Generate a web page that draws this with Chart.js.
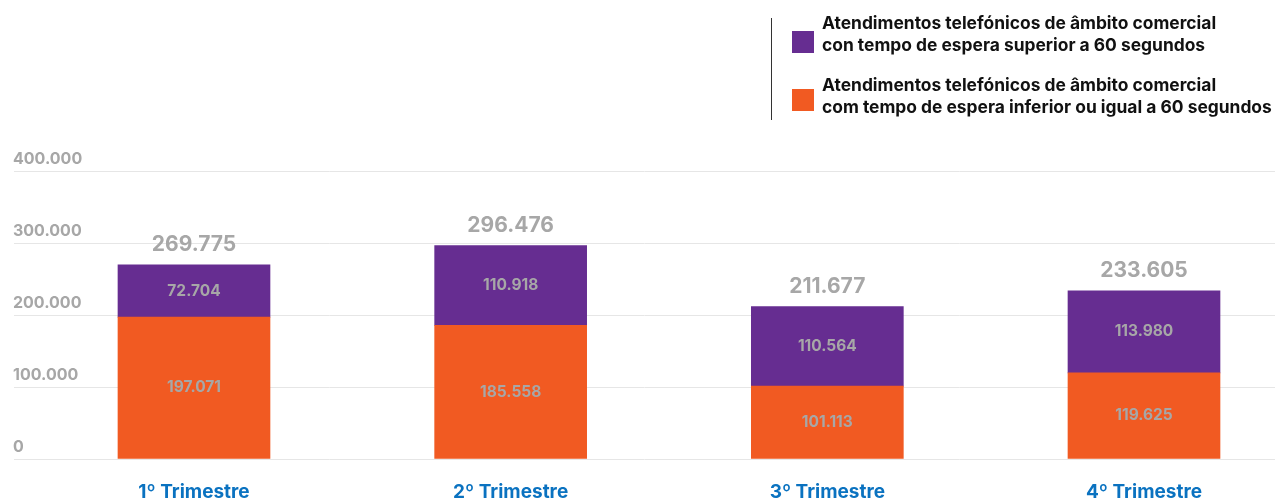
<!DOCTYPE html>
<html>
<head>
<meta charset="utf-8">
<script src="https://cdn.jsdelivr.net/npm/chart.js@4"></script>
<style>
  body { margin: 0; background: #fff; }
  #wrap { position: relative; width: 1275px; height: 500px; overflow: hidden; font-family: Inter, "Noto Sans", sans-serif; }
  #chart { position: absolute; left: 0; top: 0; }
  #legend { position: absolute; left: 771px; top: 18px; height: 102px; border-left: 1px solid #333; padding-left: 20px; }
  .item { position: absolute; left: 20px; white-space: nowrap; }
  .box { position: absolute; left: 0; width: 22px; height: 22px; }
  .txt { position: absolute; left: 30px; font-weight: 700; font-size: 17.4px; line-height: 22px; color: #111; }
</style>
</head>
<body>
<div id="wrap">
  <canvas id="chart" width="1275" height="500"></canvas>
  <div id="legend">
    <div class="item" style="top:0">
      <div class="box" style="top:13px;background:#662d91"></div>
      <div class="txt" style="top:-6px">Atendimentos telefónicos de âmbito comercial<br>con tempo de espera superior a 60 segundos</div>
    </div>
    <div class="item" style="top:0">
      <div class="box" style="top:71px;background:#f15a22"></div>
      <div class="txt" style="top:56px">Atendimentos telefónicos de âmbito comercial<br>com tempo de espera inferior ou igual a 60 segundos</div>
    </div>
  </div>
</div>
<script>
// dados
const categories = ['1º Trimestre', '2º Trimestre', '3º Trimestre', '4º Trimestre'];
const ateInferior = [197071, 185558, 101113, 119625];
const ateSuperior = [72704, 110918, 110564, 113980];
const yTicks = [0, 100000, 200000, 300000, 400000];

const ORANGE = '#f15a22';
const PURPLE = '#662d91';
const GREY = '#a7a7a7';
const FONT = 'Inter, "Noto Sans", sans-serif';

const fmt = v => String(v).replace(/\B(?=(\d{3})+(?!\d))/g, '.');

// rótulos dentro das barras + total por cima
const valueLabels = {
    id: 'valueLabels',
    afterDatasetsDraw(chart) {
        const ctx = chart.ctx;
        ctx.save();
        ctx.textAlign = 'center';
        ctx.textBaseline = 'middle';
        ctx.fillStyle = GREY;
        ctx.font = '700 15.5px ' + FONT;
        chart.data.datasets.forEach((ds, di) => {
            chart.getDatasetMeta(di).data.forEach((el, i) => {
                ctx.fillText(fmt(ds.data[i].y), el.x, (el.y + el.base) / 2);
            });
        });
        const top = chart.getDatasetMeta(chart.data.datasets.length - 1).data;
        ctx.font = '700 21px ' + FONT;
        top.forEach((el, i) => {
            ctx.fillText(fmt(ateInferior[i] + ateSuperior[i]), el.x, el.y - 20);
        });
        ctx.restore();
    }
};

new Chart(document.getElementById('chart'), {
    type: 'bar',
    data: {
        datasets: [{
            label: 'Atendimentos telefónicos de âmbito comercial com tempo de espera inferior ou igual a 60 segundos',
            data: ateInferior.map((v, i) => ({ x: i, y: v })),
            backgroundColor: ORANGE,
            barThickness: 152
        }, {
            label: 'Atendimentos telefónicos de âmbito comercial con tempo de espera superior a 60 segundos',
            data: ateSuperior.map((v, i) => ({ x: i, y: v })),
            backgroundColor: PURPLE,
            barThickness: 152
        }]
    },
    options: {
        responsive: false,
        animation: false,
        layout: { padding: { top: 171, left: 14, right: 0, bottom: 0 } },
        plugins: {
            legend: { display: false },
            tooltip: { callbacks: { title: items => categories[items[0].raw.x] } }
        },
        scales: {
            x: {
                type: 'linear',
                stacked: true,
                offset: false,
                min: -0.5684,
                max: 3.4137,
                grid: { display: false },
                border: { display: false },
                afterFit: s => { s.height = 41; },
                ticks: {
                    stepSize: 1,
                    includeBounds: false,
                    autoSkip: false,
                    maxRotation: 0,
                    padding: 14,
                    color: '#0a72c0',
                    font: { family: FONT, size: 19, weight: '700' },
                    callback: v => Number.isInteger(v) ? categories[v] : ''
                }
            },
            y: {
                stacked: true,
                min: 0,
                max: 400000,
                grid: { color: '#e6e6e6', lineWidth: 1, drawTicks: false },
                border: { display: false },
                afterFit: s => { s.width = 0; },
                afterBuildTicks: s => { s.ticks = yTicks.map(v => ({ value: v })); },
                ticks: {
                    mirror: true,
                    padding: -1,
                    labelOffset: -12,
                    color: GREY,
                    font: { family: FONT, size: 16, weight: '700' },
                    callback: v => fmt(v)
                }
            }
        }
    },
    plugins: [valueLabels]
});
</script>
</body>
</html>
